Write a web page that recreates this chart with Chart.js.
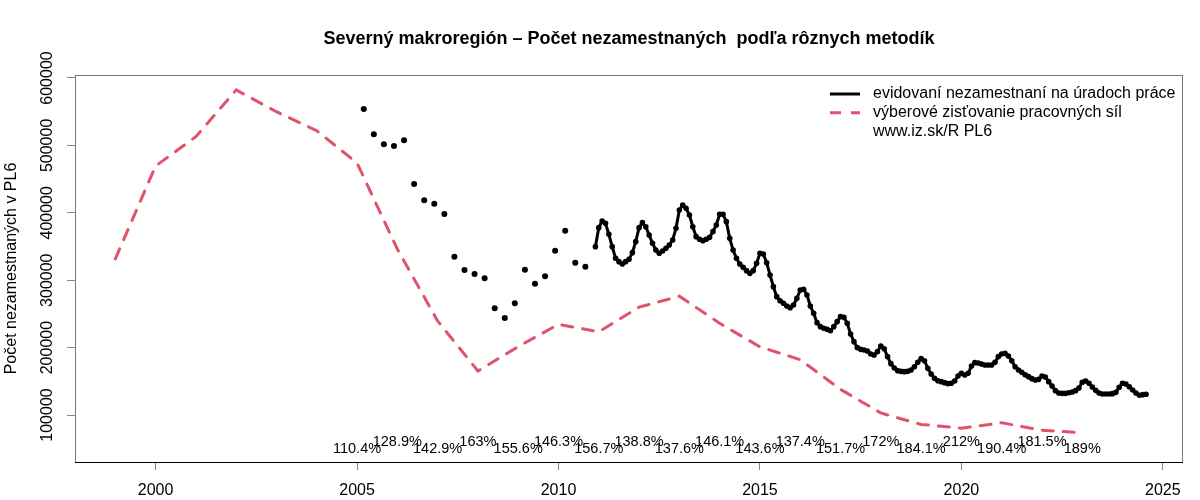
<!DOCTYPE html>
<html>
<head>
<meta charset="utf-8">
<script src="https://cdn.jsdelivr.net/npm/chart.js@4.4.1/dist/chart.umd.min.js"></script>
<style>
  html, body { margin: 0; padding: 0; background: #fff; }
  #wrap { width: 1200px; height: 500px; }
</style>
</head>
<body>
<div id="wrap"><canvas id="chart" width="1200" height="500"></canvas></div>
<script>
const FONT = "'Liberation Sans', Arial, Helvetica, sans-serif";
const TITLE = 'Severný makroregión – Počet nezamestnaných  podľa rôznych metodík';
const Y_TITLE = 'Počet nezamestnaných v PL6';

// VZPS - ročné hodnoty
const lfsYears = [1999, 2000, 2001, 2002, 2003, 2004, 2005, 2006, 2007, 2008, 2009, 2010,
  2011, 2012, 2013, 2014, 2015, 2016, 2017, 2018, 2019, 2020, 2021, 2022, 2023];
const lfsValues = [331500, 469400, 512900, 582200, 550000, 521800, 473900, 346300, 239500,
  165300, 201500, 234500, 223500, 260000, 276300, 236000, 201200, 182000, 138000, 103000,
  86000, 80500, 88500, 77500, 73500];

// evidovaní nezamestnaní - štvrťročne (marec 2005 .. september 2010), len body
const quarterlyStart = [2005, 3];
const quarterlyValues = [554000, 516500, 501600, 499100, 507600, 442700, 418500, 413500,
  398200, 334900, 315100, 309200, 302800, 258300, 243900, 265700, 315600, 294800, 305800,
  343800, 373400, 326000, 320000];

// evidovaní nezamestnaní - mesačne (december 2010 .. august 2024)
const monthlyStart = [2010, 12];
const monthlyValues = [349800,
  378000, 387900, 384400, 368100, 349800, 332500, 327500, 324000, 327500, 331000, 340900, 357200,
  378000, 385400, 379400, 367100, 354700, 344800, 339900, 343300, 347300, 352200, 359700, 377000,
  404200, 411600, 406700, 396800, 379400, 364600, 360700, 358700, 360700, 363600, 372000, 381900,
  397700, 397700, 386900, 362100, 344800, 332500, 324000, 319100, 314200, 310200, 314200, 325000,
  339900, 338900, 326000, 307700, 290400, 275600, 269600, 265700, 261700, 259300, 263200, 273100,
  285500, 286500, 278100, 261700, 250900, 237000, 231100, 228600, 227100, 225100, 231100, 238500,
  245900, 244900, 236000, 220200, 208800, 199900, 197400, 196400, 195000, 190500, 189000, 194000,
  202400, 198400, 186600, 176200, 169700, 165800, 164800, 164300, 164800, 166800, 171700, 178100,
  183600, 180600, 169200, 160800, 154400, 150900, 149500, 148000, 146500, 147000, 150400, 157900,
  161800, 159400, 161800, 172700, 177700, 177200, 175700, 174200, 174200, 174200, 178100, 186600,
  190500, 191500, 187500, 180600, 171700, 166800, 163300, 159800, 156900, 153900, 151900, 152900,
  157900, 156400, 149500, 143000, 136100, 132600, 132100, 132100, 133100, 134100, 136100, 140100,
  148500, 150400, 147000, 141500, 136600, 132600, 131200, 131200, 131200, 131700, 133600, 141100,
  147000, 146000, 142000, 137100, 132600, 129200, 130200, 130700];

// pomer evidovaní / VZPS
const ratioYears = [2005, 2006, 2007, 2008, 2009, 2010, 2011, 2012, 2013, 2014, 2015, 2016,
  2017, 2018, 2019, 2020, 2021, 2022, 2023];
const ratioLabels = ['110.4%', '128.9%', '142.9%', '163%', '155.6%', '146.3%', '156.7%',
  '138.8%', '137.6%', '146.1%', '143.6%', '137.4%', '151.7%', '172%', '184.1%', '212%',
  '190.4%', '181.5%', '189%'];
const ratioLevels = [50000, 60000];

const xTicks = [2000, 2005, 2010, 2015, 2020, 2025];
const yTicks = [100000, 200000, 300000, 400000, 500000, 600000];

const legendLabels = ['evidovaní nezamestnaní na úradoch práce', 'výberové zisťovanie pracovných síl', 'www.iz.sk/R PL6'];

const RED = '#DF536B';

const toDate = (start, stepMonths) => (v, i) => {
  const m = start[1] - 1 + i * stepMonths;
  return { x: start[0] + m / 12, y: v };
};

const monthlyData = monthlyValues.map(toDate(monthlyStart, 1));
const quarterlyData = quarterlyValues.map(toDate(quarterlyStart, 3));
const lfsData = lfsYears.map((yr, i) => ({ x: yr, y: lfsValues[i] }));

const decor = {
  id: 'decor',
  beforeDraw(chart) {
    const { ctx, width, height } = chart;
    ctx.save();
    ctx.fillStyle = '#fff';
    ctx.fillRect(0, 0, width, height);
    ctx.restore();
  },
  afterDraw(chart) {
    const { ctx, chartArea: a, scales: { x, y } } = chart;
    ctx.save();

    // ramcek okolo grafu
    ctx.strokeStyle = '#777';
    ctx.lineWidth = 1;
    ctx.strokeRect(a.left + 0.5, a.top + 0.5, a.right - a.left - 1, a.bottom - a.top);
    ctx.strokeStyle = '#000';
    ctx.beginPath();
    ctx.moveTo(a.left, a.bottom + 0.5);
    ctx.lineTo(a.right, a.bottom + 0.5);
    ctx.stroke();

    // nadpis
    ctx.fillStyle = '#000';
    ctx.textAlign = 'center';
    ctx.textBaseline = 'middle';
    ctx.font = `bold 18px ${FONT}`;
    ctx.fillText(TITLE, (a.left + a.right) / 2, 39);

    // percenta
    ctx.font = `14.5px ${FONT}`;
    ratioYears.forEach((yr, i) => {
      ctx.fillText(ratioLabels[i], x.getPixelForValue(yr), y.getPixelForValue(ratioLevels[i % 2]));
    });

    // legenda
    const lx = a.right - 353;
    const rows = [a.top + 19, a.top + 37.7, a.top + 56.5];
    ctx.lineWidth = 3;
    ctx.strokeStyle = '#000';
    ctx.beginPath();
    ctx.moveTo(lx, rows[0]);
    ctx.lineTo(lx + 30, rows[0]);
    ctx.stroke();
    ctx.strokeStyle = RED;
    ctx.setLineDash([11, 10]);
    ctx.beginPath();
    ctx.moveTo(lx, rows[1]);
    ctx.lineTo(lx + 30, rows[1]);
    ctx.stroke();
    ctx.setLineDash([]);
    ctx.font = `16px ${FONT}`;
    ctx.textAlign = 'left';
    legendLabels.forEach((t, i) => ctx.fillText(t, lx + 43, rows[i]));

    ctx.restore();
  }
};

new Chart(document.getElementById('chart'), {
  type: 'line',
  data: {
    datasets: [
      {
        label: legendLabels[0],
        data: monthlyData,
        borderColor: '#000',
        backgroundColor: '#000',
        borderWidth: 3,
        pointRadius: 2.8,
        pointBorderWidth: 0,
        pointBackgroundColor: '#000',
        tension: 0,
      },
      {
        label: legendLabels[0] + ' (štvrťročne)',
        data: quarterlyData,
        showLine: false,
        pointRadius: 3,
        pointBorderWidth: 0,
        pointBackgroundColor: '#000',
      },
      {
        label: legendLabels[1],
        data: lfsData,
        borderColor: RED,
        borderWidth: 3,
        borderDash: [11, 10],
        borderCapStyle: 'round',
        pointRadius: 0,
        tension: 0,
      },
    ],
  },
  options: {
    responsive: false,
    animation: false,
    layout: { padding: { top: 75, right: 17, bottom: 0, left: 0 } },
    plugins: {
      legend: { display: false },
      tooltip: { enabled: false },
      title: { display: false },
    },
    scales: {
      x: {
        type: 'linear',
        min: 1998.0,
        max: 2025.5,
        afterBuildTicks: s => { s.ticks = xTicks.map(v => ({ value: v })); },
        afterFit: s => { s.height = 38; },
        ticks: {
          font: { family: FONT, size: 16 },
          color: '#000',
          padding: 11,
          autoSkip: false,
          maxRotation: 0,
          callback: v => String(v),
        },
        grid: { drawOnChartArea: false, drawTicks: true, tickLength: 8, color: '#888' },
        border: { display: false },
      },
      y: {
        type: 'linear',
        min: 30270,
        max: 604450,
        afterBuildTicks: s => { s.ticks = yTicks.map(v => ({ value: v })); },
        afterFit: s => { s.width = 75; },
        ticks: {
          font: { family: FONT, size: 16 },
          color: '#000',
          minRotation: 90,
          maxRotation: 90,
          crossAlign: 'center',
          padding: -7,
          autoSkip: false,
          callback: v => String(v),
        },
        grid: { drawOnChartArea: false, drawTicks: true, tickLength: 8, color: '#888' },
        border: { display: false },
        title: {
          display: true,
          text: Y_TITLE,
          font: { family: FONT, size: 16 },
          color: '#000',
          padding: { top: 1.5, bottom: 0 },
        },
      },
    },
  },
  plugins: [decor],
});
</script>
</body>
</html>
